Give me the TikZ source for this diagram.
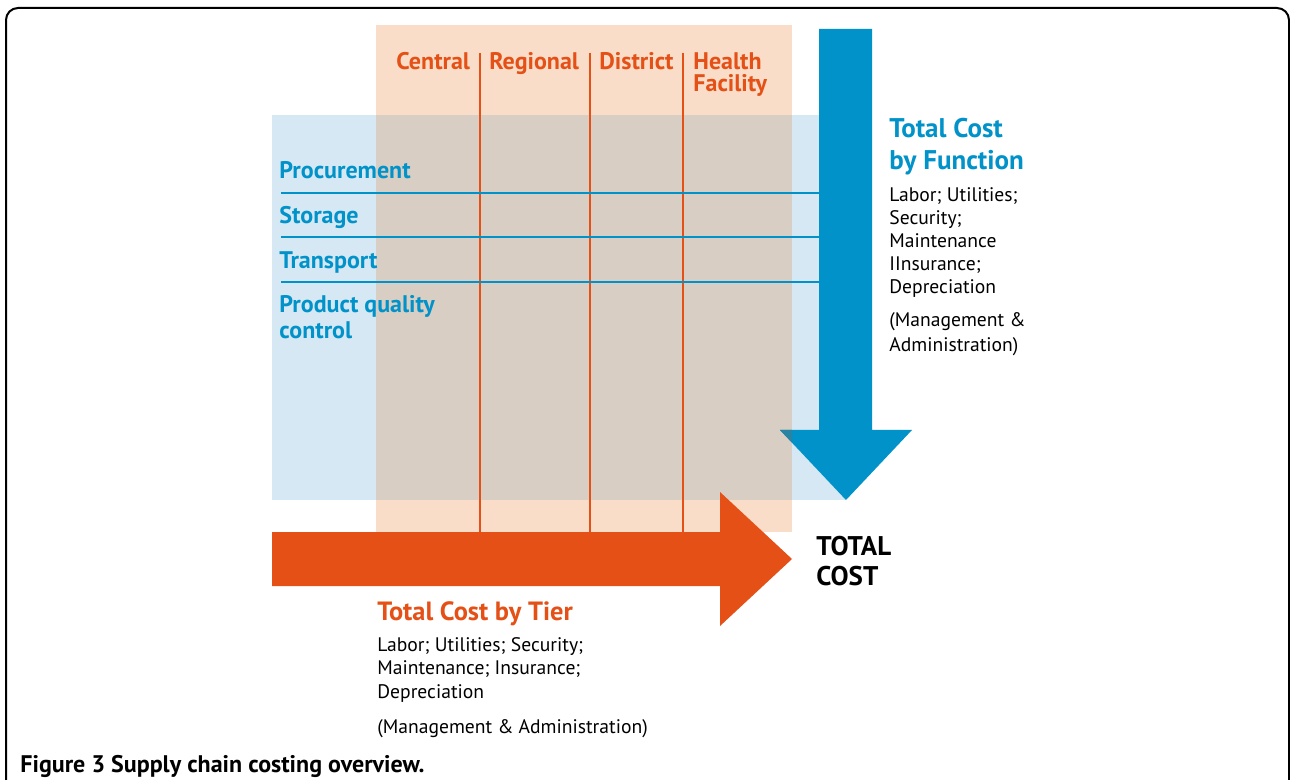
\documentclass[tikz,border=0pt]{standalone}
\usepackage{fontspec}
\setmainfont{PT Sans}
\usetikzlibrary{positioning}
\definecolor{tierorange}{RGB}{228,80,22}
\definecolor{funcblue}{RGB}{0,146,201}
\definecolor{peach}{RGB}{250,221,200}
\definecolor{paleblue}{RGB}{213,232,243}
\definecolor{mixed}{RGB}{216,206,196}
\definecolor{mixedblue}{RGB}{40,132,162}
\tikzstyle{label}=[anchor=base west, inner sep=0pt, align=left]
\tikzstyle{tierhead}=[label, text=tierorange, font=\fontsize{12}{11}\selectfont\bfseries]
\tikzstyle{funchead}=[label, text=funcblue, font=\fontsize{12}{13}\selectfont\bfseries]
\tikzstyle{tiertitle}=[label, text=tierorange, font=\fontsize{13.2}{15}\selectfont\bfseries]
\tikzstyle{functitle}=[label, text=funcblue, font=\fontsize{13.5}{16}\selectfont\bfseries]
\tikzstyle{costlist}=[label, font=\fontsize{9.8}{11.6}\selectfont]
\tikzstyle{mgmt}=[label, font=\fontsize{9.8}{12.5}\selectfont]
\tikzstyle{total}=[label, font=\fontsize{13.5}{15}\selectfont\bfseries]
\tikzstyle{tierline}=[draw=tierorange, line width=1pt]
\tikzstyle{funcline}=[draw=funcblue, line width=1pt]

\begin{document}
\begin{tikzpicture}[x=0.5pt,y=-0.5pt]
\useasboundingbox (0,0) rectangle (1290,780);
% frame
\draw[line width=1pt, rounded corners=6pt] (6,780) -- (6,8) -- (1289,8) -- (1289,780);
% panels
\fill[paleblue] (272,115) rectangle (846,500);
\fill[peach] (376,25) rectangle (792,532);
\fill[mixed] (376,115) rectangle (792,500);
% tiers and functions
\foreach \x in {480,590,683}
  \draw[tierline] (\x,53) -- (\x,532);
\foreach \y in {193,237,282}
  \draw[funcline] (281,\y) -- (819,\y);
% total cost arrows
\fill[funcblue] (819,29) -- (872,29) -- (872,430) -- (912,430) -- (846,500) -- (780,430) -- (819,430) -- cycle;
\fill[mixedblue] (780,430) -- (792,430) -- (792,442.7) -- cycle;
\fill[tierorange] (272,532) -- (720,532) -- (720,492) -- (792,559) -- (720,626) -- (720,586) -- (272,586) -- cycle;

% multi-line labels sit on their last baseline
\node[tierhead] (central) at (396,70) {Central};
\node[tierhead] (regional) at (489,70) {Regional};
\node[tierhead] (district) at (599,70) {District};
\node[tierhead] (health) at (693,92) {Health\\Facility};

\node[funchead] (procure) at (279,179) {Procurement};
\node[funchead] (storage) at (279,224) {Storage};
\node[funchead] (transport) at (279,269) {Transport};
\node[funchead] (quality) at (279,339) {Product quality\\control};

\node[functitle] (byfunc) at (889,170) {Total Cost\\by Function};
\node[costlist] (funclist) at (889,294) {Labor; Utilities;\\Security;\\Maintenance\\IInsurance;\\Depreciation};
\node[mgmt] (funcmgmt) at (889,352) {(Management \&\\Administration)};

\node[total] (total) at (816,585) {TOTAL\\COST};

\node[tiertitle] (bytier) at (377,620) {Total Cost by Tier};
\node[costlist] (tierlist) at (377,698) {Labor; Utilities; Security;\\Maintenance; Insurance;\\Depreciation};
\node[mgmt] (tiermgmt) at (377,733) {(Management \& Administration)};

\node[label, font=\fontsize{12}{14}\selectfont\bfseries] (caption) at (20,772) {Figure 3 Supply chain costing overview.};
\end{tikzpicture}
\end{document}
